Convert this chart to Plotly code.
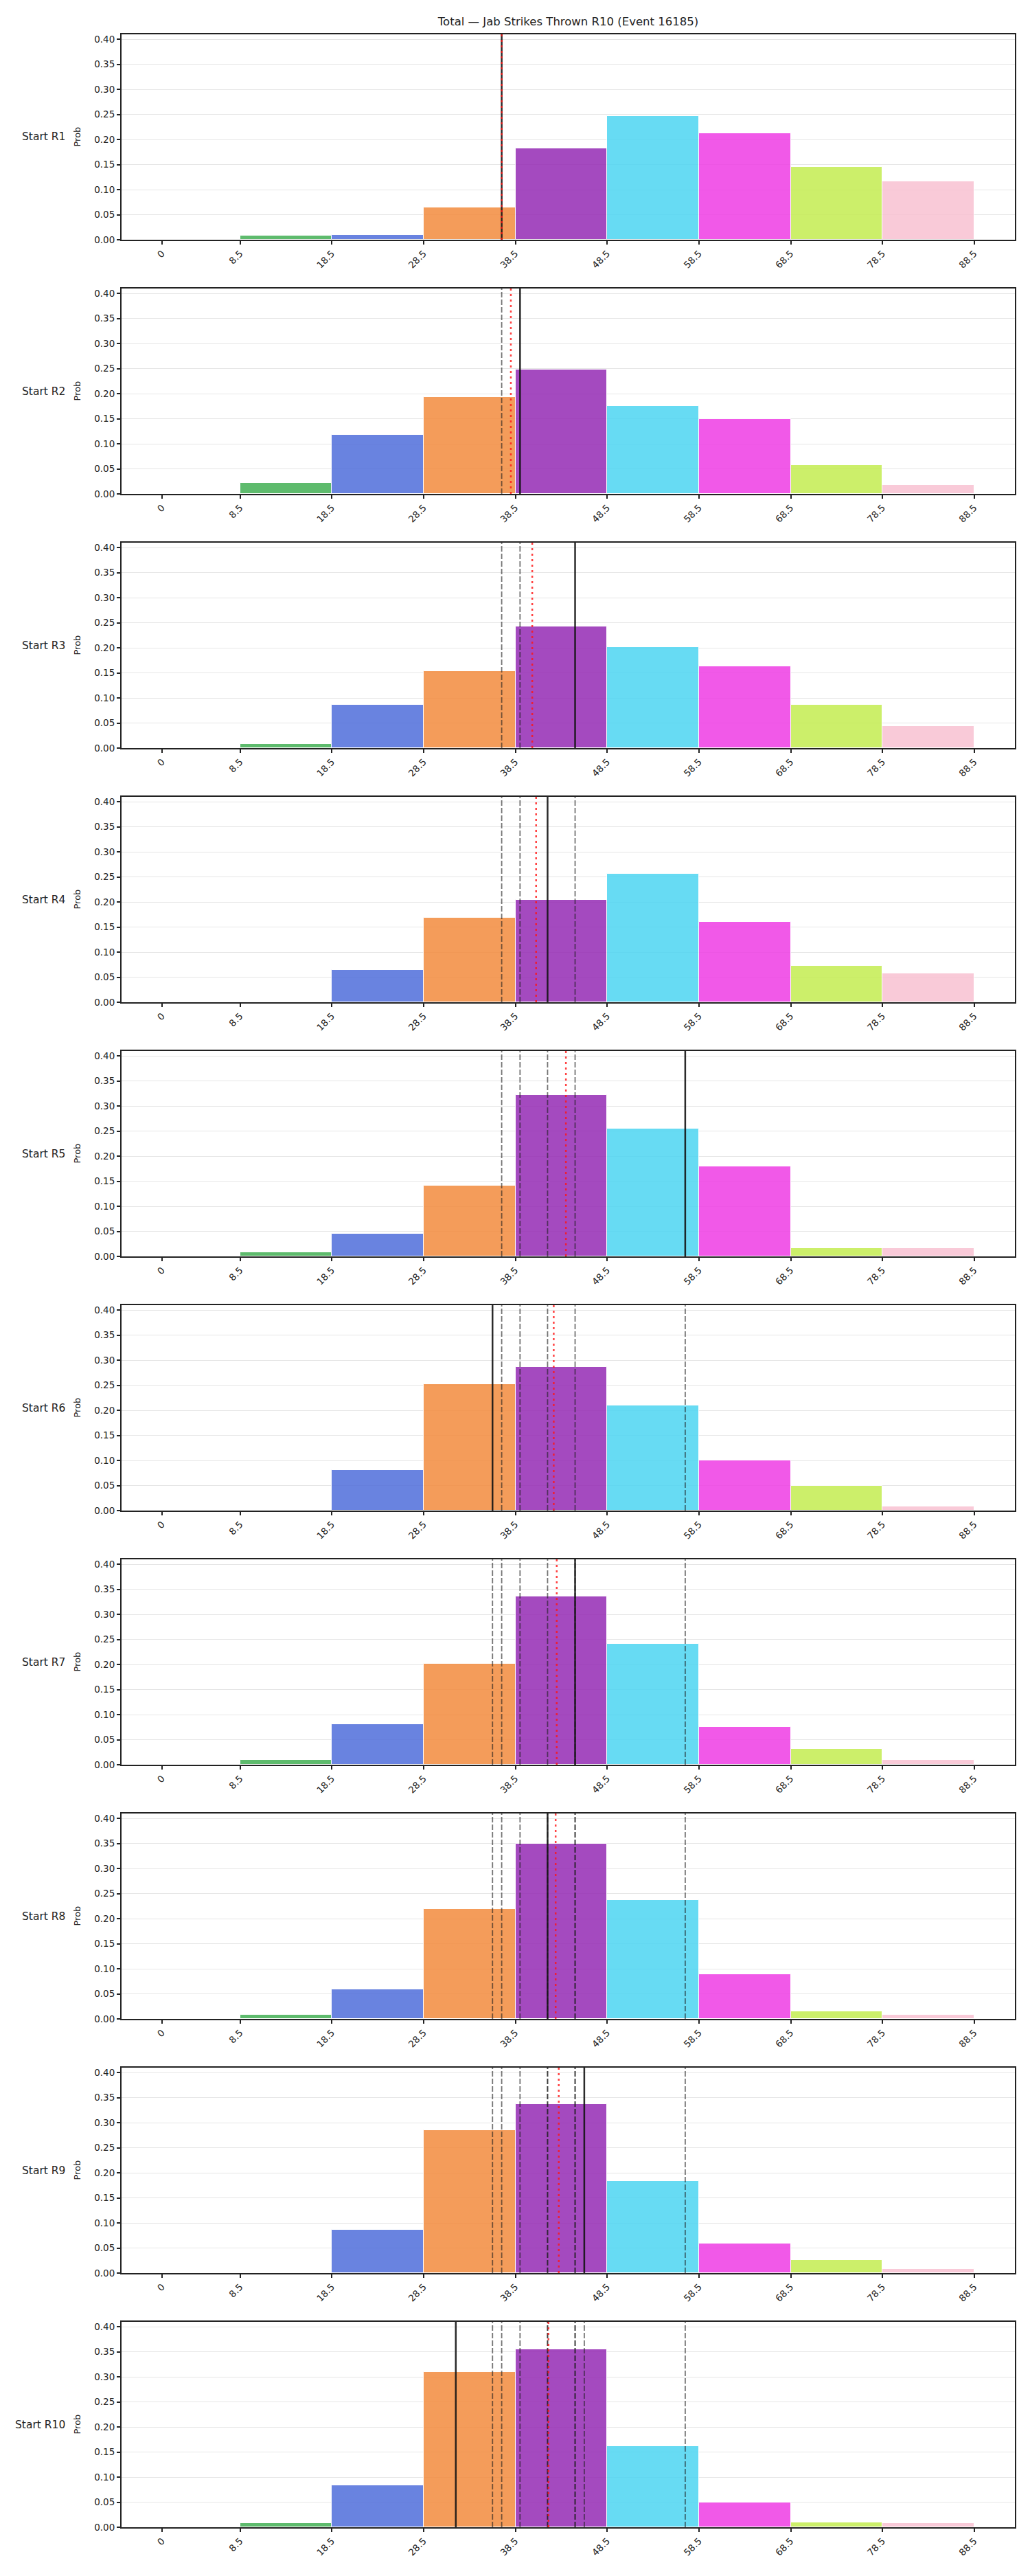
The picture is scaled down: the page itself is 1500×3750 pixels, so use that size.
import plotly.graph_objects as go

# ---------------- data ----------------
title_text = "Total \u2014 Jab Strikes Thrown R10 (Event 16185)"
row_labels = ["Start R1", "Start R2", "Start R3", "Start R4", "Start R5",
              "Start R6", "Start R7", "Start R8", "Start R9", "Start R10"]

bin_edges = [8.5, 18.5, 28.5, 38.5, 48.5, 58.5, 68.5, 78.5, 88.5]
tick_vals = [0, 8.5, 18.5, 28.5, 38.5, 48.5, 58.5, 68.5, 78.5, 88.5]
tick_text = ["0", "8.5", "18.5", "28.5", "38.5", "48.5", "58.5", "68.5", "78.5", "88.5"]
y_ticks = [0.0, 0.05, 0.10, 0.15, 0.20, 0.25, 0.30, 0.35, 0.40]

bin_colors = ["#43b054", "#506edb", "#f38b3e", "#952bb4",
              "#4dd5f2", "#ef3de4", "#c4ed51", "#f8c1d2"]

probs_r1 = [0.008, 0.010, 0.064, 0.183, 0.247, 0.213, 0.145, 0.116]
probs_r2 = [0.022, 0.118, 0.194, 0.248, 0.176, 0.149, 0.057, 0.018]
probs_r3 = [0.008, 0.086, 0.154, 0.243, 0.202, 0.163, 0.086, 0.044]
probs_r4 = [0.000, 0.064, 0.168, 0.205, 0.257, 0.161, 0.073, 0.058]
probs_r5 = [0.008, 0.045, 0.141, 0.322, 0.255, 0.179, 0.017, 0.016]
probs_r6 = [0.000, 0.081, 0.253, 0.286, 0.210, 0.100, 0.049, 0.008]
probs_r7 = [0.009, 0.081, 0.202, 0.336, 0.241, 0.075, 0.032, 0.009]
probs_r8 = [0.008, 0.059, 0.219, 0.349, 0.237, 0.089, 0.015, 0.008]
probs_r9 = [0.000, 0.087, 0.285, 0.338, 0.184, 0.059, 0.026, 0.008]
probs_r10 = [0.008, 0.084, 0.310, 0.355, 0.162, 0.049, 0.010, 0.008]
all_probs = [probs_r1, probs_r2, probs_r3, probs_r4, probs_r5,
             probs_r6, probs_r7, probs_r8, probs_r9, probs_r10]

actual_line = [37, 39, 45, 42, 57, 36, 45, 42, 46, 32]          # black solid
mean_line = [37.0, 38.0, 40.33, 40.75, 44.0, 42.67, 43.0, 42.88, 43.22, 42.1]  # red dotted

# ---------------- layout geometry ----------------
W, H = 1500, 3750
ML, MR, MT, MB = 177, 22, 50, 71
plot_h = H - MT - MB
panel_h, pitch = 299, 370
x_range = [-4.425, 92.925]
FONT = "DejaVu Sans"
INK = "#222222"

centers = [(a + b) / 2 for a, b in zip(bin_edges[:-1], bin_edges[1:])]
widths = [b - a for a, b in zip(bin_edges[:-1], bin_edges[1:])]

fig = go.Figure()
shapes = []
annotations = []
layout_axes = {}

for i, probs in enumerate(all_probs):
    sfx = "" if i == 0 else str(i + 1)
    top = pitch * i
    bot = top + panel_h
    dom = [1 - bot / plot_h, 1 - top / plot_h]

    fig.add_trace(go.Bar(
        x=centers, y=probs, width=widths,
        marker=dict(color=bin_colors, line=dict(color="white", width=1)),
        opacity=0.85, xaxis="x" + sfx, yaxis="y" + sfx,
        showlegend=False, hovertemplate="%{x}: %{y:.3f}<extra></extra>",
    ))

    layout_axes["xaxis" + sfx] = dict(
        domain=[0, 1], anchor="y" + sfx, range=x_range,
        tickmode="array", tickvals=tick_vals, ticktext=tick_text,
        tickangle=-45, ticks="outside", ticklen=5, tickwidth=1.5, tickcolor=INK,
        showline=True, linecolor=INK, linewidth=2, mirror=True,
        showgrid=False, zeroline=False,
        tickfont=dict(family=FONT, size=13.5, color=INK),
    )
    layout_axes["yaxis" + sfx] = dict(
        domain=dom, anchor="x" + sfx, range=[0, 0.41],
        tickmode="array", tickvals=y_ticks, tickformat=".2f",
        ticks="outside", ticklen=5, tickwidth=1.5, tickcolor=INK,
        showline=True, linecolor=INK, linewidth=2, mirror=True,
        showgrid=True, gridcolor="#e6e6e6", gridwidth=1, zeroline=False,
        tickfont=dict(family=FONT, size=13.5, color=INK),
    )

    xd = "x" + sfx + " domain"
    yd = "y" + sfx + " domain"
    annotations.append(dict(
        text="Prob", xref=xd, yref=yd, x=0, y=0.5, xshift=-65,
        xanchor="center", yanchor="middle", textangle=-90, showarrow=False,
        font=dict(family=FONT, size=13, color=INK),
    ))
    annotations.append(dict(
        text=row_labels[i], xref=xd, yref=yd, x=0, y=0.5, xshift=-80,
        xanchor="right", yanchor="middle", showarrow=False,
        font=dict(family=FONT, size=15.5, color=INK),
    ))

    # previous rounds' actual values: gray dashed
    for v in actual_line[:i]:
        shapes.append(dict(
            type="line", xref="x" + sfx, yref=yd, x0=v, x1=v, y0=0, y1=1,
            line=dict(color="rgba(30,30,30,0.62)", width=1.8, dash="8px,3px"),
        ))
    # current actual: black solid
    v = actual_line[i]
    shapes.append(dict(
        type="line", xref="x" + sfx, yref=yd, x0=v, x1=v, y0=0, y1=1,
        line=dict(color="rgba(20,20,20,0.9)", width=2.5),
    ))
    # running mean: red dotted
    v = mean_line[i]
    shapes.append(dict(
        type="line", xref="x" + sfx, yref=yd, x0=v, x1=v, y0=0, y1=1,
        line=dict(color="rgba(255,20,20,0.8)", width=2.5, dash="3px,5px"),
    ))

fig.update_layout(**layout_axes)
fig.update_layout(
    width=W, height=H,
    margin=dict(l=ML, r=MR, t=MT, b=MB),
    paper_bgcolor="white", plot_bgcolor="white",
    font=dict(family=FONT, color=INK),
    title=dict(text=title_text, x=(ML + W - MR) / 2 / W, xanchor="center",
               y=1 - 31 / H, yanchor="middle",
               font=dict(family=FONT, size=16.5, color=INK)),
    shapes=shapes, annotations=annotations,
    bargap=0, showlegend=False,
)

fig.write_html("out.html")
